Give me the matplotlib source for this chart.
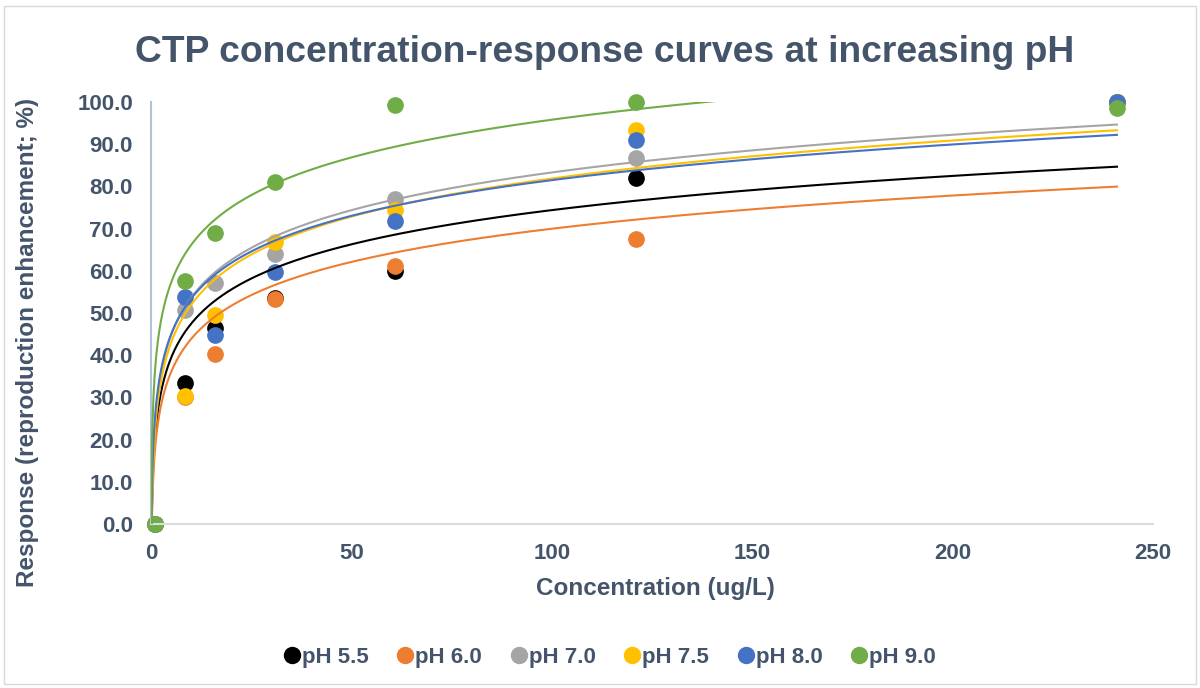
import numpy as np
import matplotlib
matplotlib.use('Agg')
import matplotlib.pyplot as plt
from matplotlib.lines import Line2D
from matplotlib.patches import Rectangle

plt.rcParams['font.family'] = ['Liberation Sans', 'DejaVu Sans']
plt.rcParams['font.weight'] = 'bold'

# concentration (+1 so the log trendline works)
conc = [1, 8.5, 16, 31, 61, 121, 241]

labels = ['pH 5.5', 'pH 6.0', 'pH 7.0', 'pH 7.5', 'pH 8.0', 'pH 9.0']
colors = ['#000000', '#ed7d31', '#a5a5a5', '#ffc000', '#4472c4', '#70ad47']

ph55 = [0, 33.4, 46.5, 53.6, 60.0, 82.1, 100.0]
ph60 = [0, 30.0, 40.2, 53.2, 61.2, 67.5, 100.0]
ph70 = [0, 50.6, 57.2, 63.9, 77.0, 86.8, 100.0]
ph75 = [0, 30.4, 49.5, 66.9, 74.4, 93.4, 100.0]
ph80 = [0, 53.8, 44.7, 59.7, 71.7, 90.9, 100.0]
ph90 = [0, 57.6, 68.9, 81.1, 99.3, 99.9, 98.5]
series = [ph55, ph60, ph70, ph75, ph80, ph90]

# logarithmic trendlines y = a*ln(x) + b
trend_a = [11.7, 11.35, 12.9, 13.0, 12.2, 12.9]
trend_b = [20.5, 17.7, 23.9, 22.0, 25.3, 36.4]

text_col = '#44546a'

fig = plt.figure(figsize=(12, 6.88), dpi=100)
ax = fig.add_axes([151 / 1200, 1 - 524 / 688, 1002 / 1200, 422 / 688])

xs = np.linspace(0.02, max(conc), 2000)
for ys, c, a, b in zip(series, colors, trend_a, trend_b):
    ax.plot(conc, ys, 'o', color=c, markersize=11, zorder=2, clip_on=False)
    ax.plot(xs, a * np.log(xs) + b, color=c, lw=1.5, zorder=3)

ax.set_xlim(0, 250)
ax.set_ylim(0, 100)
ax.set_xticks(range(0, 251, 50))
ax.set_yticks(range(0, 101, 10))
ax.set_yticklabels(['%.1f' % v for v in range(0, 101, 10)])
ax.tick_params(length=0, labelsize=16, labelcolor=text_col)
ax.tick_params(axis='y', pad=13)
ax.tick_params(axis='x', pad=14)
for lab in ax.get_xticklabels() + ax.get_yticklabels():
    lab.set_fontweight('bold')

ax.spines['top'].set_visible(False)
ax.spines['right'].set_visible(False)
ax.spines['bottom'].set_color('#d9dde3')
ax.spines['bottom'].set_linewidth(1.5)
ax.spines['left'].set_color('#b4c0d6')
ax.spines['left'].set_linewidth(1.5)

fig.text(605 / 1200, 1 - 62 / 688, 'CTP concentration-response curves at increasing pH',
         ha='center', va='baseline', fontsize=26.8, fontweight='bold', color=text_col)
fig.text(655 / 1200, 1 - 588 / 688, 'Concentration (ug/L)', ha='center', va='center',
         fontsize=17.5, fontweight='bold', color=text_col)
fig.text(28 / 1200, 1 - 342 / 688, 'Response (reproduction enhancement; %)', ha='center',
         va='center', rotation=90, fontsize=17.5, fontweight='bold', color=text_col)

handles = [Line2D([], [], marker='o', ls='none', color=c, markersize=11.5) for c in colors]
fig.legend(handles, labels, loc='center', bbox_to_anchor=(610 / 1200, 1 - 657 / 688),
           ncol=6, frameon=False, handlelength=0.7, handletextpad=0.1, columnspacing=1.3,
           prop={'size': 16, 'weight': 'bold'}, labelcolor=text_col)

fig.patches.append(Rectangle((4 / 1200, 4 / 688), 1192 / 1200, 678 / 688, transform=fig.transFigure,
                             fill=False, edgecolor='#d9d9d9', lw=1))

fig.savefig('out.png', dpi=100)
